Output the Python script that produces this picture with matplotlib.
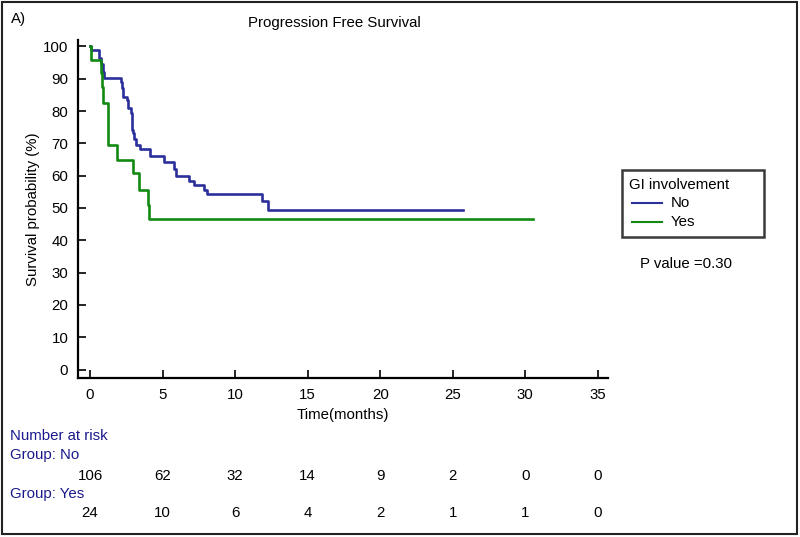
import matplotlib
matplotlib.use("Agg")
import matplotlib.pyplot as plt
from matplotlib.patches import Rectangle
from matplotlib.lines import Line2D
import matplotlib.transforms as mtransforms

plt.rcParams['font.family'] = ['Liberation Sans', 'DejaVu Sans']

# ---- data ----
groups = ["No", "Yes"]
no_times = [0, 0.10, 0.64, 0.73, 0.87, 0.96, 2.11, 2.23, 2.30, 2.53, 2.64, 2.80, 2.89,
            2.99, 3.06, 3.15, 3.45, 4.15, 5.08, 5.81, 5.93, 6.85, 7.19, 7.88, 8.04,
            11.83, 12.29, 25.73]
no_surv = [100, 98.9, 96.3, 94.5, 92.2, 90.3, 89.1, 87.1, 84.5, 83.4, 80.9, 79.3, 74.1,
           73.1, 71.3, 69.5, 68.2, 66.1, 64.1, 62.0, 59.9, 58.2, 57.1, 55.6, 54.2,
           52.1, 49.4, 49.4]
yes_times = [0, 0.07, 0.78, 0.82, 0.87, 1.26, 1.88, 2.99, 3.38, 4.02, 4.09, 30.5]
yes_surv = [100, 95.8, 91.7, 87.5, 82.6, 69.6, 64.8, 60.9, 55.7, 50.9, 46.5, 46.5]

risk_times = [0, 5, 10, 15, 20, 25, 30, 35]
risk_no = [106, 62, 32, 14, 9, 2, 0, 0]
risk_yes = [24, 10, 6, 4, 2, 1, 1, 0]

xticks = [0, 5, 10, 15, 20, 25, 30, 35]
yticks = [0, 10, 20, 30, 40, 50, 60, 70, 80, 90, 100]

blue = '#2b2f9a'
green = '#128a12'
navy = '#1a1a8c'
FS = 10.8

fig = plt.figure(figsize=(8, 5.37), dpi=100)
ax = fig.add_axes([78/800, 1 - 378/537, (608-78)/800, (378-40)/537])

ax.step(no_times, no_surv, where='post', color=blue, lw=1.9, label='No')
ax.step(yes_times, yes_surv, where='post', color=green, lw=1.9, label='Yes')

ax.set_xlim(-0.83, 35.7)
ax.set_ylim(-2.63, 102.0)
ax.set_xticks(xticks)
ax.set_yticks(yticks)
ax.tick_params(axis='both', direction='in', length=6, width=1.2, labelsize=FS, pad=7)
ax.spines['top'].set_visible(False)
ax.spines['right'].set_visible(False)
ax.spines['left'].set_linewidth(1.6)
ax.spines['bottom'].set_linewidth(1.6)
ax.set_xlabel('Time(months)', fontsize=FS, labelpad=4.5)
ax.set_ylabel('Survival probability (%)', fontsize=FS, labelpad=2)

def fx(px):
    return px / 800

def fy(py):
    return 1 - py / 537

# title and panel label
fig.text(fx(334), fy(23), 'Progression Free Survival', ha='center', va='center', fontsize=FS)
fig.text(fx(11), fy(19), 'A)', ha='left', va='center', fontsize=FS)

# legend (drawn as a framed box)
fig.patches.append(Rectangle((fx(622), fy(237)), (764-622)/800, (237-170)/537,
                             transform=fig.transFigure, fill=False,
                             edgecolor='#3a3a3a', lw=1.8))
fig.text(fx(629), fy(185), 'GI involvement', ha='left', va='center', fontsize=FS)
for name, col, yy in zip(groups, [blue, green], [203, 222]):
    fig.add_artist(Line2D([fx(632), fx(662)], [fy(yy), fy(yy)], transform=fig.transFigure,
                          color=col, lw=1.5))
    fig.text(fx(671), fy(yy), name, ha='left', va='center', fontsize=FS)

fig.text(fx(640), fy(264), 'P value =0.30', ha='left', va='center', fontsize=FS)

# number at risk table
trans = mtransforms.blended_transform_factory(ax.transData, fig.transFigure)
fig.text(fx(10), fy(436), 'Number at risk', color=navy, fontsize=FS, va='center')
fig.text(fx(10), fy(455), 'Group: No', color=navy, fontsize=FS, va='center')
fig.text(fx(10), fy(494), 'Group: Yes', color=navy, fontsize=FS, va='center')
for t, n in zip(risk_times, risk_no):
    fig.text(t, fy(476), str(n), transform=trans, ha='center', va='center', fontsize=FS)
for t, n in zip(risk_times, risk_yes):
    fig.text(t, fy(513), str(n), transform=trans, ha='center', va='center', fontsize=FS)

# outer border
fig.patches.append(Rectangle((fx(2), 3/537), 795/800, 532/537, transform=fig.transFigure,
                             fill=False, edgecolor='#222222', lw=1.5))

fig.savefig('out.png', dpi=100)
